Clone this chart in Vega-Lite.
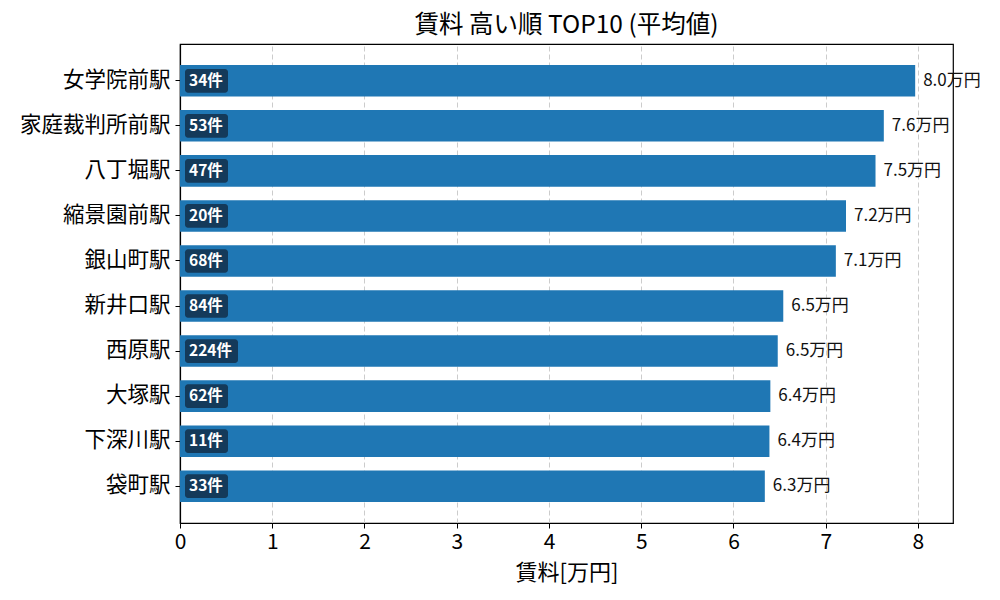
{
  "$schema": "https://vega.github.io/schema/vega-lite/v6.json",
  "width": 773,
  "height": 479,
  "autosize": {"type": "none"},
  "padding": {"left": 180, "top": 44, "right": 47, "bottom": 77},
  "background": "white",
  "config": {
    "font": "Noto Sans CJK JP",
    "view": {"stroke": "black", "strokeWidth": 1.2},
    "axis": {"domainColor": "black", "tickColor": "black", "labelColor": "black", "titleColor": "black", "domainWidth": 1.2}
  },
  "title": {"text": "賃料 高い順 TOP10 (平均値)", "fontSize": 24.5, "fontWeight": "normal", "color": "black", "anchor": "middle", "offset": 6, "font": "Noto Sans CJK JP"},
  "data": {
    "values": [
      {"station": "女学院前駅", "rent": 7.97, "count": 34},
      {"station": "家庭裁判所前駅", "rent": 7.63, "count": 53},
      {"station": "八丁堀駅", "rent": 7.54, "count": 47},
      {"station": "縮景園前駅", "rent": 7.22, "count": 20},
      {"station": "銀山町駅", "rent": 7.11, "count": 68},
      {"station": "新井口駅", "rent": 6.54, "count": 84},
      {"station": "西原駅", "rent": 6.48, "count": 224},
      {"station": "大塚駅", "rent": 6.40, "count": 62},
      {"station": "下深川駅", "rent": 6.39, "count": 11},
      {"station": "袋町駅", "rent": 6.34, "count": 33}
    ]
  },
  "transform": [
    {"calculate": "format(datum.rent, '.1f') + '万円'", "as": "rent_label"},
    {"calculate": "datum.count + '件'", "as": "count_label"}
  ],
  "encoding": {
    "y": {
      "field": "station", "type": "nominal", "sort": null,
      "scale": {"paddingInner": 0.3, "paddingOuter": 0.467},
      "axis": {"title": null, "labelFontSize": 21.5, "labelPadding": 5, "tickSize": 5, "labelLimit": 300}
    }
  },
  "layer": [
    {
      "mark": {"type": "bar", "color": "#1f77b4"},
      "encoding": {
        "x": {
          "field": "rent", "type": "quantitative",
          "scale": {"domain": [0, 8.38], "nice": false, "zero": true},
          "axis": {
            "title": "賃料[万円]", "titleFontSize": 22, "titleFontWeight": "normal", "titlePadding": 10,
            "values": [0, 1, 2, 3, 4, 5, 6, 7, 8], "format": "d", "labelFlush": false,
            "labelFontSize": 21, "labelPadding": 3, "tickSize": 5,
            "grid": true, "gridDash": [5, 3], "gridColor": "#cccccc", "gridWidth": 1
          }
        }
      }
    },
    {
      "mark": {"type": "text", "align": "left", "baseline": "middle", "dx": 8, "fontSize": 17, "color": "#111111"},
      "encoding": {
        "x": {"field": "rent", "type": "quantitative"},
        "text": {"field": "rent_label"}
      }
    },
    {
      "mark": {"type": "bar", "color": "#143a5a", "cornerRadius": 3, "height": {"band": 0.75}, "xOffset": 5, "x2Offset": {"expr": "length(datum.count_label) > 3 ? 58 : 48"}},
      "encoding": {
        "x": {"datum": 0, "type": "quantitative"},
        "x2": {"datum": 0}
      }
    },
    {
      "mark": {"type": "text", "align": "left", "baseline": "middle", "dx": 9, "fontSize": 15.5, "fontWeight": "bold", "color": "white"},
      "encoding": {
        "x": {"datum": 0, "type": "quantitative"},
        "text": {"field": "count_label"}
      }
    }
  ]
}
